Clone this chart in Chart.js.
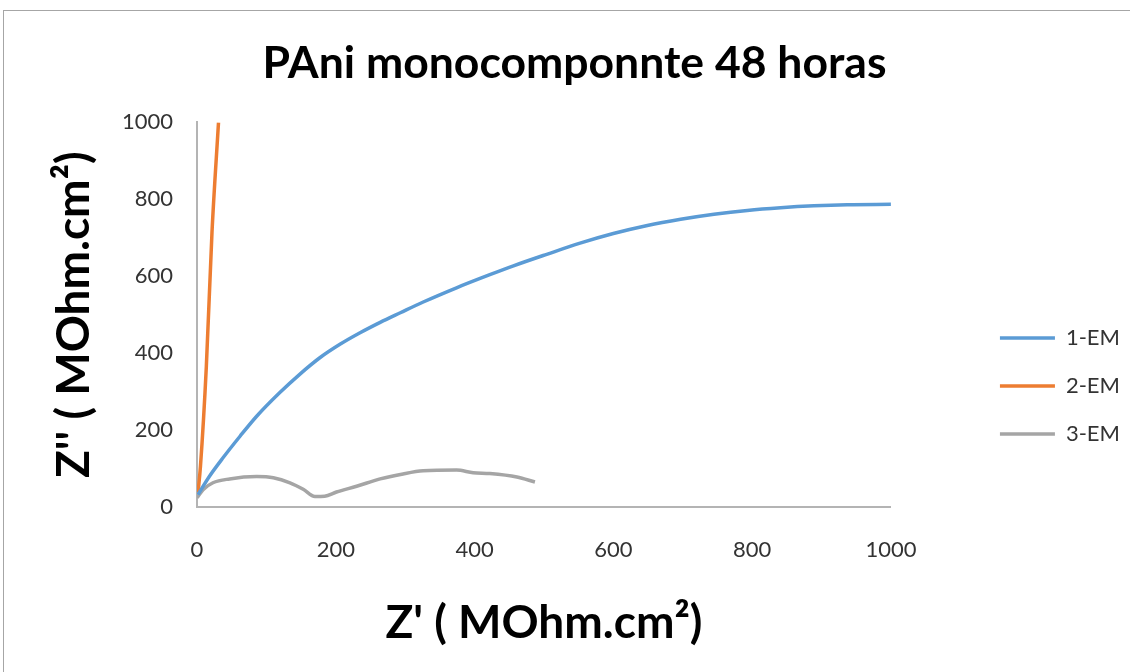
<!DOCTYPE html>
<html>
<head>
<meta charset="utf-8">
<title>PAni monocomponnte 48 horas</title>
<script src="https://cdn.jsdelivr.net/npm/chart.js@4"></script>
<style>
    html, body { margin: 0; padding: 0; background: #fff; overflow: hidden; }
    #wrap { position: relative; width: 1130px; height: 672px; }
    #frame { position: absolute; left: 3px; top: 10px; width: 1200px; height: 800px;
             border: 1.5px solid #a6a6a6; pointer-events: none; }
    canvas { position: absolute; left: 0; top: 0; }
</style>
</head>
<body>
<div id="wrap">
    <canvas id="grafico" width="1130" height="672"></canvas>
    <div id="frame"></div>
</div>
<script>
// Dados (Z' e Z'' em MOhm.cm²)
const em1X = [1.4, 18, 37.5, 62, 86, 119, 148, 177, 206, 235, 264, 293, 326, 374, 422, 456, 504, 552, 600, 649, 697, 745, 793, 841, 889, 937, 1000];
const em1Y = [32, 80, 128, 184, 236, 297, 345, 388, 423, 453, 480, 505, 533, 570, 604, 627, 657, 686, 711, 732, 748, 761, 771, 778, 783, 786, 787];

const em2X = [1.5, 5, 13.5, 21.6, 31];
const em2Y = [38, 106, 367, 714, 1000];

const em3X = [0, 8.7, 23, 47, 86, 110, 134, 153, 170, 184, 201, 230, 264, 297, 326, 374, 398, 422, 461, 487];
const em3Y = [24, 45, 63, 73, 79, 76, 63, 46, 27, 28, 39, 54, 73, 86, 94, 96, 89, 87, 78, 65];

const xTicks = [0, 200, 400, 600, 800, 1000];
const yTicks = [0, 200, 400, 600, 800, 1000];

const toPoints = (xs, ys) => xs.map((x, i) => ({ x: x, y: ys[i] }));

const fonte = 'Lato, "Open Sans", sans-serif';

function criarSerie(label, xs, ys, cor) {
    return {
        label: label,
        data: toPoints(xs, ys),
        showLine: true,
        borderColor: cor,
        backgroundColor: cor,
        borderWidth: 3.5,
        pointRadius: 0,
        cubicInterpolationMode: 'monotone',
        fill: false
    };
}

const ctx = document.getElementById('grafico').getContext('2d');
new Chart(ctx, {
    type: 'scatter',
    data: {
        datasets: [
            criarSerie('1-EM', em1X, em1Y, '#5b9bd5'),
            criarSerie('2-EM', em2X, em2Y, '#ed7d31'),
            criarSerie('3-EM', em3X, em3Y, '#a5a5a5')
        ]
    },
    options: {
        responsive: false,
        animation: false,
        layout: { padding: { left: 19, right: 0, top: 0, bottom: 0 } },
        plugins: {
            tooltip: { enabled: false },
            title: {
                display: true,
                text: 'PAni monocomponnte 48 horas',
                color: '#000',
                font: { family: fonte, size: 44.5, weight: 'bold' },
                padding: { top: 37, bottom: 32 }
            },
            legend: {
                position: 'right',
                align: 'center',
                title: { display: true, text: ' ', font: { size: 10 }, padding: { top: 88, bottom: 0 } },
                labels: {
                    usePointStyle: true,
                    pointStyle: 'line',
                    pointStyleWidth: 55,
                    boxHeight: 4,
                    padding: 26,
                    color: '#333',
                    font: { family: fonte, size: 22 }
                }
            }
        },
        scales: {
            x: {
                type: 'linear',
                min: 0,
                max: 1000,
                afterBuildTicks: (s) => { s.ticks = xTicks.map(v => ({ value: v })); },
                afterFit: (s) => { s.height = 165; },
                grid: { display: false, drawTicks: false },
                border: { display: true, color: '#b4b4b4', width: 2 },
                ticks: { color: '#333', padding: 30, font: { family: fonte, size: 22 }, maxRotation: 0,
                         callback: (v) => String(v) },
                title: {
                    display: true,
                    text: "Z' ( MOhm.cm²)",
                    color: '#000',
                    font: { family: fonte, size: 46, weight: 'bold' },
                    padding: { top: 0, bottom: 21 }
                }
            },
            y: {
                type: 'linear',
                min: 0,
                max: 1000,
                afterBuildTicks: (s) => { s.ticks = yTicks.map(v => ({ value: v })); },
                afterFit: (s) => { s.width = 178; },
                grid: { display: false, drawTicks: false },
                border: { display: true, color: '#b4b4b4', width: 2 },
                ticks: { color: '#333', padding: 24, font: { family: fonte, size: 22 },
                         callback: (v) => String(v) },
                title: {
                    display: true,
                    text: "Z'' ( MOhm.cm²)",
                    color: '#000',
                    font: { family: fonte, size: 46, weight: 'bold' },
                    padding: { top: 28, bottom: 0 }
                }
            },
            // eixo invisível: só reserva o espaço entre a área do gráfico e a legenda
            espaco: {
                type: 'linear',
                position: 'right',
                min: 0,
                max: 1000,
                afterFit: (s) => { s.width = 83; },
                grid: { display: false, drawTicks: false },
                border: { display: false },
                ticks: { display: false }
            }
        }
    }
});
</script>
</body>
</html>
